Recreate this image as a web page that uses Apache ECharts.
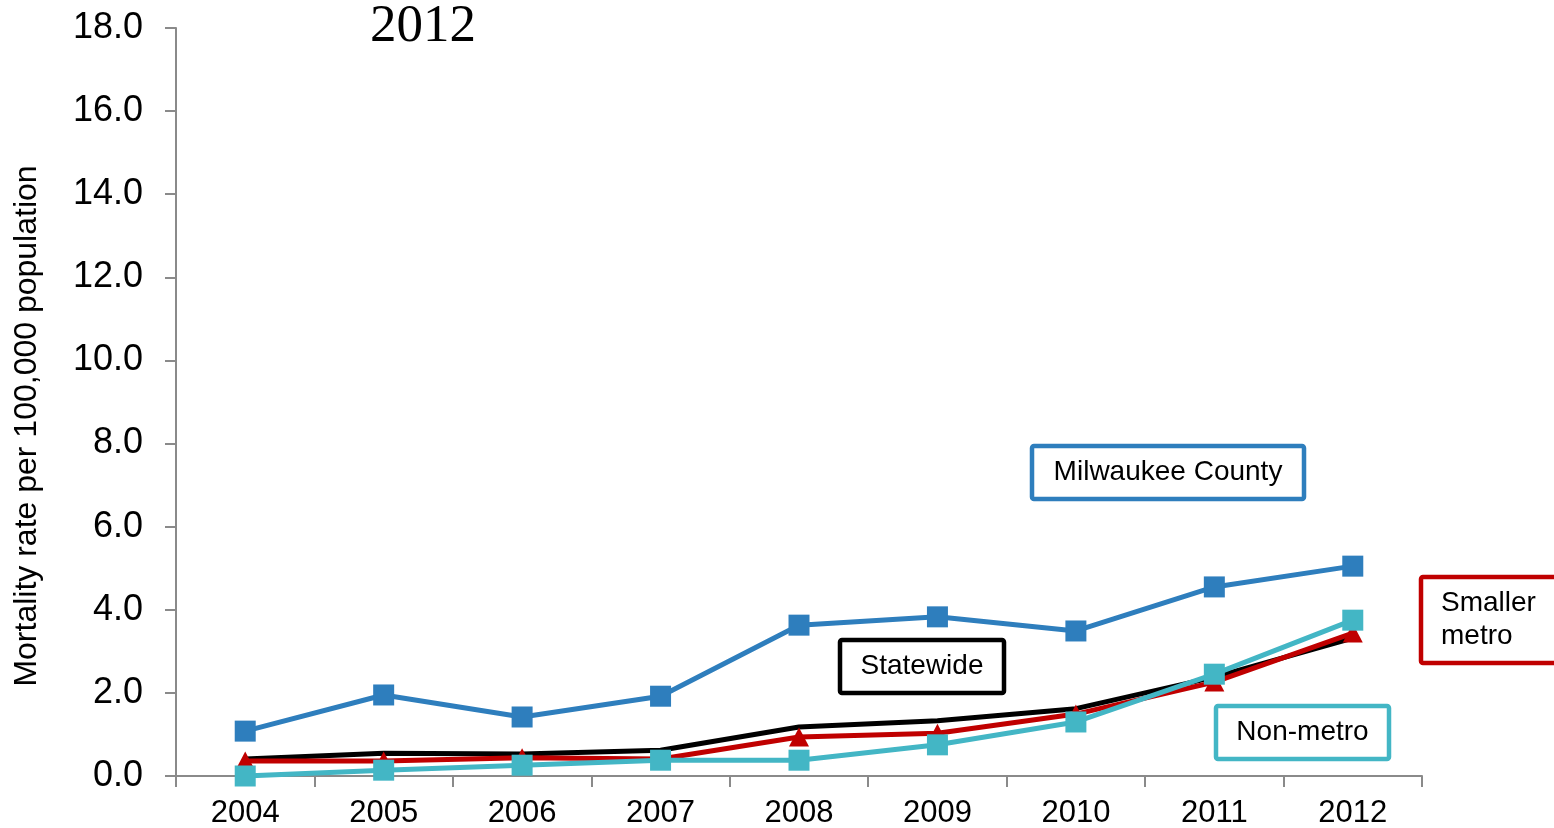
<!DOCTYPE html>
<html><head><meta charset="utf-8">
<script src="https://cdn.jsdelivr.net/npm/echarts@6/dist/echarts.min.js"></script>
<style>html,body{margin:0;padding:0;background:#fff}#c{width:1554px;height:828px}</style>
</head><body><div id="c"></div>
<script>
const years = ['2004','2005','2006','2007','2008','2009','2010','2011','2012'];
const milwaukee = [1.08, 1.95, 1.42, 1.92, 3.63, 3.83, 3.49, 4.55, 5.05];
const statewide = [0.41, 0.55, 0.53, 0.62, 1.18, 1.33, 1.62, 2.38, 3.32];
const smallerMetro = [0.36, 0.36, 0.44, 0.41, 0.94, 1.03, 1.49, 2.26, 3.44];
const nonMetro = [0.0, 0.14, 0.26, 0.38, 0.38, 0.75, 1.30, 2.45, 3.75];
const yTicks = {min: 0, max: 18, interval: 2};
const yTitle = 'Mortality rate per 100,000 population';

const chart = echarts.init(document.getElementById('c'));
const font = 'Liberation Sans, Arial, sans-serif';
function box(x, y, w, h, color, text, align) {
  return [{
    type: 'rect', shape: {x: x, y: y, width: w, height: h, r: 2},
    style: {fill: '#fff', stroke: color, lineWidth: 4.5}, z: 100
  }, {
    type: 'text', x: align === 'left' ? x + 20 : x + w / 2, y: y + h / 2,
    style: {text: text, fill: '#000', font: '28px ' + font,
      align: align || 'center', verticalAlign: 'middle', lineHeight: 33}, z: 101
  }];
}
chart.setOption({
  animation: false,
  grid: {left: 176, right: 132, top: 28, bottom: 52, outerBoundsMode: 'none', containLabel: false},
  xAxis: {
    type: 'category', data: years, boundaryGap: true,
    axisLine: {lineStyle: {color: '#8a8a8a', width: 2}},
    axisTick: {show: true, length: 11, lineStyle: {color: '#8a8a8a', width: 2}},
    axisLabel: {color: '#000', fontSize: 31, fontFamily: font, margin: 22}
  },
  yAxis: {
    type: 'value', min: yTicks.min, max: yTicks.max, interval: yTicks.interval,
    axisLine: {show: true, lineStyle: {color: '#8a8a8a', width: 2}},
    axisTick: {show: true, length: 11, lineStyle: {color: '#8a8a8a', width: 2}},
    splitLine: {show: false},
    axisLabel: {color: '#000', fontSize: 36, fontFamily: font, margin: 33,
      formatter: v => v.toFixed(1)}
  },
  series: [
    {name: 'Statewide', type: 'line', data: statewide, symbol: 'none',
      lineStyle: {color: '#000', width: 5}, itemStyle: {color: '#000'}, z: 2},
    {name: 'Smaller metro', type: 'line', data: smallerMetro, symbol: 'triangle', symbolSize: [20, 19],
      lineStyle: {color: '#C00000', width: 5}, itemStyle: {color: '#C00000'}, z: 3},
    {name: 'Non-metro', type: 'line', data: nonMetro, symbol: 'rect', symbolSize: 21,
      lineStyle: {color: '#43B6C5', width: 5}, itemStyle: {color: '#43B6C5'}, z: 4},
    {name: 'Milwaukee County', type: 'line', data: milwaukee, symbol: 'rect', symbolSize: 21,
      lineStyle: {color: '#2E7EBD', width: 5}, itemStyle: {color: '#2E7EBD'}, z: 5}
  ],
  graphic: [
    {type: 'text', x: 423, y: 27, style: {text: '2012', fill: '#000',
      font: '53px Liberation Serif, DejaVu Serif, serif', align: 'center', verticalAlign: 'middle'}},
    {type: 'text', x: 27, y: 426, rotation: Math.PI / 2, style: {text: yTitle, fill: '#000',
      font: '32px ' + font, align: 'center', verticalAlign: 'middle'}},
    ...box(1032, 446, 272, 53, '#2E7EBD', 'Milwaukee County'),
    ...box(840, 640, 164, 53, '#000', 'Statewide'),
    ...box(1421, 577, 150, 86, '#C00000', 'Smaller\nmetro', 'left'),
    ...box(1216, 706, 173, 53, '#43B6C5', 'Non-metro')
  ]
});
</script></body></html>
